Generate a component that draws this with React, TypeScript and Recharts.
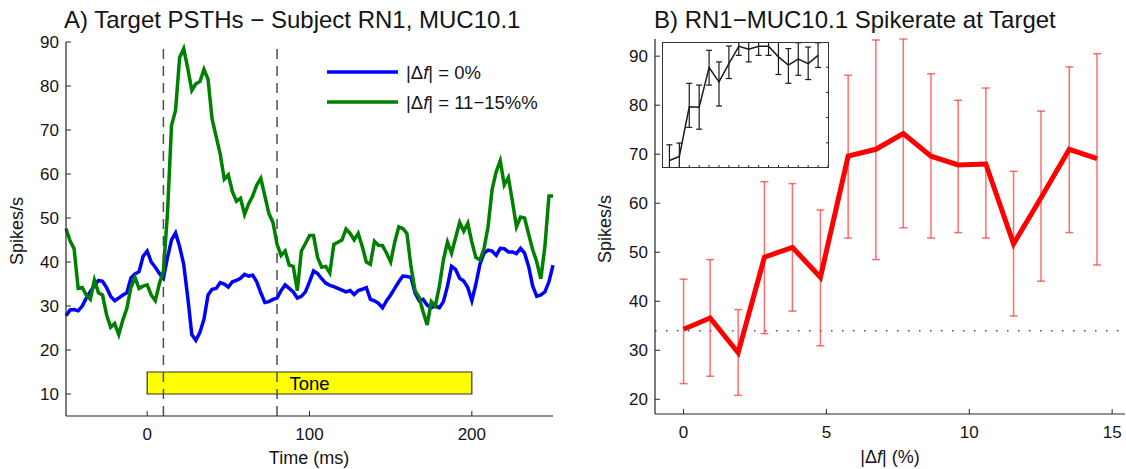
import React from "react";
import {
  LineChart,
  Line,
  XAxis,
  YAxis,
  ReferenceLine,
  ReferenceArea,
  ErrorBar,
  Legend,
} from "recharts";

const FONT = '"Liberation Sans", Arial, Helvetica, sans-serif';
const axisColor = "#262626";
const textColor = "#141414";

// ---- Panel A: PSTHs ----
const psthTime = [
  -50, -47.5, -45, -42.5, -40, -37.5, -35, -32.5, -30, -27.5,
  -25, -22.5, -20, -17.5, -15, -12.5, -10, -7.5, -5, -2.5,
  0, 2.5, 5, 7.5, 10, 12.5, 15, 17.5, 20, 22.5,
  25, 27.5, 30, 32.5, 35, 37.5, 40, 42.5, 45, 47.5,
  50, 52.5, 55, 57.5, 60, 62.5, 65, 67.5, 70, 72.5,
  75, 77.5, 80, 82.5, 85, 87.5, 90, 92.5, 95, 97.5,
  100, 102.5, 105, 107.5, 110, 112.5, 115, 117.5, 120, 122.5,
  125, 127.5, 130, 132.5, 135, 137.5, 140, 142.5, 145, 147.5,
  150, 152.5, 155, 157.5, 160, 162.5, 165, 167.5, 170, 172.5,
  175, 177.5, 180, 182.5, 185, 187.5, 190, 192.5, 195, 197.5,
  200, 202.5, 205, 207.5, 210, 212.5, 215, 217.5, 220, 222.5,
  225, 227.5, 230, 232.5, 235, 237.5, 240, 242.5, 245, 247.5,
  250,
];

// |Δf| = 0%
const psthSame = [
  27.8, 29.1, 29.2, 28.9, 30.0, 31.8, 33.3, 34.6, 35.8, 35.6,
  34.2, 32.2, 31.2, 31.8, 32.5, 33.0, 36.4, 37.3, 37.8, 41.3,
  42.5, 40.0, 38.8, 37.4, 36.3, 41.0, 45.0, 46.6, 43.5, 39.5,
  32.0, 23.5, 22.2, 24.0, 27.0, 32.5, 33.8, 34.0, 35.3, 35.0,
  34.3, 35.5, 35.8, 36.3, 37.2, 36.8, 37.0, 35.5, 33.0, 30.8,
  31.0, 31.5, 31.8, 33.5, 34.8, 34.0, 33.2, 31.8, 32.2, 33.2,
  35.5, 38.0, 37.4, 36.2, 35.2, 34.7, 34.4, 34.0, 33.6, 33.2,
  33.5, 32.6, 33.5, 33.8, 34.2, 31.5, 31.2, 30.6, 29.6, 31.2,
  32.5, 34.0, 35.5, 36.8, 36.7, 36.5, 33.0, 31.2, 31.5, 30.2,
  29.6, 30.0, 29.6, 31.0, 34.5, 39.0, 38.3, 36.3, 35.7, 34.2,
  31.2, 35.0, 39.5, 42.0, 42.7, 42.5, 41.5, 43.1, 43.0, 42.3,
  42.3, 41.9, 43.1, 42.0, 39.0, 34.5, 32.2, 32.5, 33.2, 35.5,
  39.3,
];

// |Δf| = 11-15%
const psthWide = [
  47.6, 44.8, 43.0, 34.0, 34.2, 32.5, 31.5, 35.9, 33.0, 32.5,
  28.0, 25.2, 26.0, 23.5, 26.8, 29.5, 34.2, 36.5, 34.0, 34.5,
  34.8, 32.5, 31.2, 35.0, 38.0, 51.0, 71.0, 74.5, 86.5, 88.5,
  84.0, 79.0, 80.5, 81.0, 83.8, 81.5, 72.5, 68.5, 64.5, 58.8,
  59.8, 56.0, 53.8, 54.5, 50.8, 53.2, 55.0, 57.5, 59.0, 55.0,
  51.0, 49.0, 44.0, 41.5, 42.5, 39.3, 39.0, 33.5, 42.5, 44.2,
  46.0, 46.0, 41.0, 38.8, 39.0, 37.5, 44.0, 44.5, 45.0, 47.5,
  46.5, 45.0, 46.5, 43.5, 40.0, 39.5, 44.7, 43.8, 43.7, 42.0,
  40.0, 44.5, 48.0, 47.6, 46.5, 39.0, 33.5, 32.0, 28.7, 25.7,
  31.0, 30.0, 34.5, 40.5, 44.5, 42.0, 45.5, 49.0, 47.0, 48.8,
  44.5, 41.0, 40.5, 43.0, 48.0, 56.5, 60.5, 63.0, 57.5, 59.2,
  53.8, 48.0, 50.2, 50.0, 46.3, 42.8, 40.0, 36.2, 43.5, 55.0,
  55.0,
];

const psthXTicks = [0, 100, 200];
const psthYTicks = [10, 20, 30, 40, 50, 60, 70, 80, 90];
const windowMarks = [10, 80];
const tone = { start: 0, end: 200, low: 10, high: 15 };

// ---- Panel B: spike rate vs |Δf| ----
const dfValues = [0, 0.93, 1.91, 2.83, 3.81, 4.79, 5.76, 6.73, 7.69, 8.66, 9.61, 10.58, 11.55, 12.51, 13.5, 14.47];
const rateMean = [34.3, 36.6, 29.5, 49.0, 51.0, 44.9, 69.6, 71.0, 74.2, 69.6, 67.8, 68.0, 51.7, 61.1, 71.0, 69.1];
const rateHigh = [44.5, 48.5, 38.3, 64.4, 64.0, 58.6, 86.1, 93.3, 93.5, 86.4, 81.0, 83.5, 66.5, 78.8, 87.8, 90.5];
const rateLow = [23.2, 24.7, 20.8, 33.4, 38.0, 30.9, 52.9, 48.5, 55.0, 52.9, 54.0, 52.9, 37.0, 44.1, 54.0, 47.4];
const baselineRate = 34;
const rateXTicks = [0, 5, 10, 15];
const rateYTicks = [20, 30, 40, 50, 60, 70, 80, 90];

// inset
const insetIndex = [1, 2, 3, 4, 5, 6, 7, 8, 9, 10, 11, 12, 13, 14, 15, 16];
const insetMean = [0.3, 0.46, 2.43, 2.41, 3.99, 3.42, 4.14, 4.83, 4.71, 4.83, 4.83, 4.41, 4.08, 4.32, 4.14, 4.47];
const insetHigh = [0.92, 0.99, 3.36, 3.29, 4.67, 4.21, 4.84, 5.2, 5.2, 5.2, 5.2, 5.2, 4.74, 4.97, 4.8, 4.97];
const insetLow = [-0.1, -0.1, 1.61, 1.54, 3.29, 2.46, 3.55, 4.47, 4.21, 4.47, 4.47, 3.71, 3.36, 3.68, 3.51, 3.99];
const insetXTicks = [1, 2, 3, 4, 5, 6, 7, 8, 9, 10, 11, 12, 13, 14, 15, 16, 17];
const insetYTicks = [1, 2, 3, 4];

const psthData = psthTime.map((t, i) => ({ t, same: psthSame[i], wide: psthWide[i] }));
const rateData = dfValues.map((x, i) => ({
  x,
  mean: rateMean[i],
  err: [rateMean[i] - rateLow[i], rateHigh[i] - rateMean[i]],
}));
const insetData = insetIndex.map((x, i) => ({
  x,
  mean: insetMean[i],
  err: [insetMean[i] - insetLow[i], insetHigh[i] - insetMean[i]],
}));

// inward ticks, MATLAB style
const bottomTick = (len: number, label: boolean) => (props: any) => {
  const { x, y, payload } = props;
  return (
    <g>
      <line x1={x} y1={y} x2={x} y2={y - len} stroke={axisColor} strokeWidth={1} />
      {label && (
        <text x={x} y={y + 24} textAnchor="middle" fontSize={17} fill={textColor} fontFamily={FONT}>
          {payload.value}
        </text>
      )}
    </g>
  );
};

const leftTick = (len: number) => (props: any) => {
  const { x, y, payload } = props;
  return (
    <g>
      <line x1={x} y1={y} x2={x + len} y2={y} stroke={axisColor} strokeWidth={1} />
      <text x={x - 7} y={y + 6} textAnchor="end" fontSize={17} fill={textColor} fontFamily={FONT}>
        {payload.value}
      </text>
    </g>
  );
};

const rightTick = (len: number) => (props: any) => {
  const { x, y } = props;
  return <line x1={x} y1={y} x2={x - len} y2={y} stroke={axisColor} strokeWidth={1} />;
};

function DeltaF({ rest }: { rest: string }) {
  return (
    <>
      |Δ<tspan fontStyle="italic">f</tspan>|{rest}
    </>
  );
}

function PsthLegend({ payload }: any) {
  return (
    <svg width={240} height={60} style={{ display: "block", overflow: "visible" }}>
      {(payload ?? []).map((entry: any, i: number) => (
        <g key={i} transform={`translate(0, ${14 + i * 30})`}>
          <line x1={7} x2={78} y1={0} y2={0} stroke={entry.color} strokeWidth={3.5} />
          <text x={86} y={6.5} fontSize={18.5} fill={textColor} fontFamily={FONT}>
            <DeltaF rest={String(entry.value).replace("|Δf|", "")} />
          </text>
        </g>
      ))}
    </svg>
  );
}

const axisLine = { stroke: axisColor, strokeWidth: 1.2 };

export default function App() {
  return (
    <div
      style={{
        position: "absolute",
        left: 0,
        top: 0,
        width: 1126,
        height: 469,
        background: "#fff",
        overflow: "hidden",
        fontFamily: FONT,
      }}
    >
      {/* A) PSTHs */}
      <div style={{ position: "absolute", left: 0, top: 0 }}>
        <LineChart width={570} height={469} data={psthData} margin={{ top: 42, right: 17, bottom: 0, left: 0 }}>
          <XAxis
            dataKey="t"
            type="number"
            domain={[-50, 250]}
            ticks={psthXTicks}
            interval={0}
            height={53}
            tickSize={0}
            tickMargin={0}
            tick={bottomTick(5, true)}
            axisLine={axisLine}
          />
          <YAxis
            type="number"
            domain={[5, 90]}
            ticks={psthYTicks}
            interval={0}
            width={66}
            tickSize={0}
            tickMargin={0}
            tick={leftTick(5)}
            axisLine={axisLine}
          />
          {windowMarks.map((m) => (
            <ReferenceLine key={m} x={m} stroke="#4d4d4d" strokeWidth={1.5} strokeDasharray="10 7" />
          ))}
          <ReferenceArea
            x1={tone.start}
            x2={tone.end}
            y1={tone.low}
            y2={tone.high}
            fill="#ffff00"
            fillOpacity={1}
            stroke="#333"
            strokeWidth={1.2}
            label={{ value: "Tone", position: "center", fontSize: 18.5, fill: "#000", fontFamily: FONT }}
          />
          <Line
            dataKey="same"
            name="|Δf| = 0%"
            type="linear"
            stroke="#0000ff"
            strokeWidth={3.5}
            dot={false}
            isAnimationActive={false}
          />
          <Line
            dataKey="wide"
            name="|Δf| = 11−15%%"
            type="linear"
            stroke="#008000"
            strokeWidth={3.5}
            dot={false}
            isAnimationActive={false}
          />
          <Legend
            layout="vertical"
            align="center"
            verticalAlign="middle"
            content={<PsthLegend />}
            wrapperStyle={{ left: 320, top: 58, width: 240, height: 60 }}
          />
        </LineChart>
      </div>

      {/* B) spike rate at target */}
      <div style={{ position: "absolute", left: 570, top: 0 }}>
        <LineChart width={556} height={469} data={rateData} margin={{ top: 39, right: 1, bottom: 0, left: 0 }}>
          <XAxis
            dataKey="x"
            type="number"
            domain={[-1, 15.45]}
            ticks={rateXTicks}
            interval={0}
            height={55}
            tickSize={0}
            tickMargin={0}
            tick={bottomTick(5, true)}
            axisLine={axisLine}
          />
          <YAxis
            type="number"
            domain={[17, 93.5]}
            ticks={rateYTicks}
            interval={0}
            width={85}
            tickSize={0}
            tickMargin={0}
            tick={leftTick(5)}
            axisLine={axisLine}
          />
          <ReferenceLine y={baselineRate} stroke="#555" strokeWidth={1.5} strokeDasharray="1.5 9.5" />
          <Line
            dataKey="mean"
            type="linear"
            stroke="#ff0000"
            strokeWidth={5}
            dot={false}
            isAnimationActive={false}
          >
            <ErrorBar dataKey="err" direction="y" width={4} stroke="#ff3030" strokeOpacity={0.7} strokeWidth={1.5} />
          </Line>
        </LineChart>
      </div>

      {/* inset */}
      <div
        style={{
          position: "absolute",
          left: 662,
          top: 42,
          width: 167,
          height: 126,
          overflow: "hidden",
          background: "#fff",
        }}
      >
        <LineChart width={227} height={156} data={insetData} margin={{ top: 0, right: 0, bottom: 0, left: 0 }}>
          <XAxis
            dataKey="x"
            type="number"
            domain={[0.25, 17.1]}
            ticks={insetXTicks}
            interval={0}
            height={30}
            tickSize={0}
            tickMargin={0}
            tick={bottomTick(3, false)}
            axisLine={false}
          />
          <YAxis
            orientation="right"
            type="number"
            domain={[0, 5]}
            allowDataOverflow
            ticks={insetYTicks}
            interval={0}
            width={60}
            tickSize={0}
            tickMargin={0}
            tick={rightTick(3)}
            axisLine={false}
          />
          <Line
            dataKey="mean"
            type="linear"
            stroke="#1a1a1a"
            strokeWidth={1.5}
            dot={false}
            isAnimationActive={false}
          >
            <ErrorBar dataKey="err" direction="y" width={3} stroke="#1a1a1a" strokeWidth={1.2} />
          </Line>
        </LineChart>
      </div>
      <div
        style={{
          position: "absolute",
          left: 662,
          top: 42,
          width: 167,
          height: 126,
          border: "1.3px solid #333",
          boxSizing: "border-box",
          pointerEvents: "none",
        }}
      />

      {/* titles and axis labels */}
      <svg
        width={1126}
        height={469}
        style={{ position: "absolute", left: 0, top: 0, pointerEvents: "none" }}
        fontFamily={FONT}
        fill={textColor}
      >
        <text x={64} y={28} fontSize={24}>
          A) Target PSTHs − Subject RN1, MUC10.1
        </text>
        <text x={654} y={28} fontSize={24}>
          B) RN1−MUC10.1 Spikerate at Target
        </text>
        <text x={309} y={464} fontSize={18} textAnchor="middle">
          Time (ms)
        </text>
        <text x={890} y={463} fontSize={18} textAnchor="middle">
          <DeltaF rest=" (%)" />
        </text>
        <text x={17} y={231} fontSize={18} textAnchor="middle" dominantBaseline="central" transform="rotate(-90 17 231)">
          Spikes/s
        </text>
        <text x={605} y={229} fontSize={18} textAnchor="middle" dominantBaseline="central" transform="rotate(-90 605 229)">
          Spikes/s
        </text>
      </svg>
    </div>
  );
}
